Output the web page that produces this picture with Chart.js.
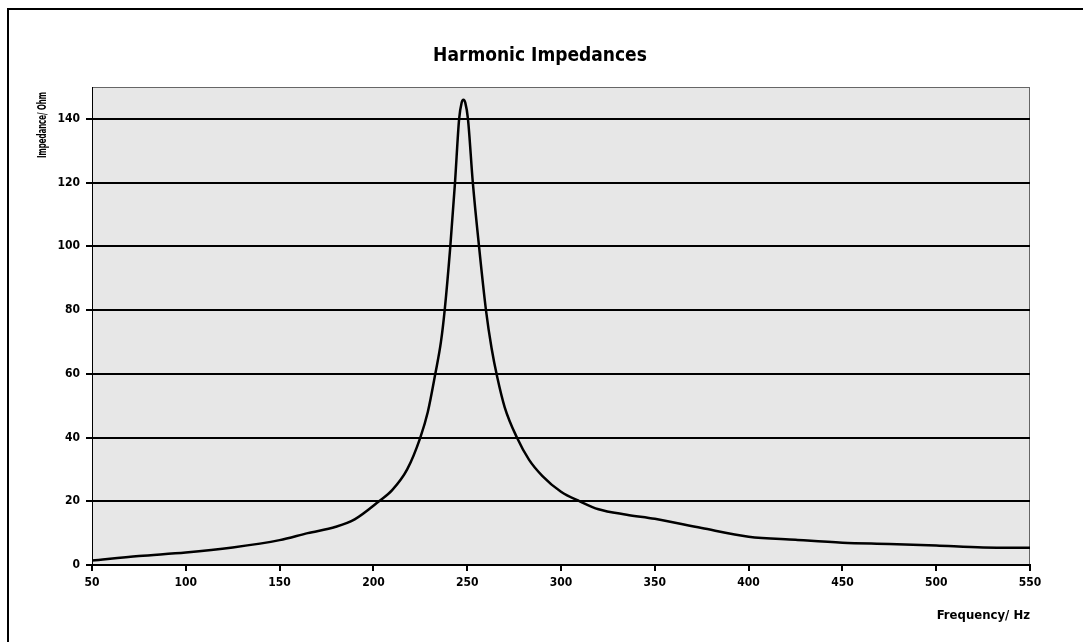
<!DOCTYPE html>
<html>
<head>
<meta charset="utf-8">
<script src="https://cdn.jsdelivr.net/npm/chart.js@4/dist/chart.umd.min.js"></script>
<style>
  html, body { margin: 0; padding: 0; background: #ffffff; }
  #wrap { width: 1083px; height: 642px; position: relative; }
</style>
</head>
<body>
<div id="wrap"><canvas id="c" width="1083" height="642"></canvas></div>
<script>
const chartTitle = "Harmonic Impedances";
const xAxisTitle = "Frequency/ Hz";
const yAxisTitle = "Impedance/ Ohm";

const frequencies = [50, 75, 100, 125, 150, 165, 180, 190, 203, 210, 218, 225, 229, 233, 236, 238, 241, 243.5, 245.7, 247, 248, 249, 250.4, 253, 256.3, 260, 263, 266, 270, 276.5, 283, 290, 300, 310, 320, 335, 350, 375, 400, 425, 450, 475, 500, 525, 550];
const impedances = [1.4, 2.8, 3.9, 5.5, 7.8, 10, 12, 14.3, 20, 23.5, 30, 40, 48, 60, 70, 80, 100, 120, 140, 145, 146, 145, 140, 120, 100, 80, 68, 59, 49.5, 40, 33, 28, 23, 20, 17.5, 15.8, 14.5, 11.6, 8.9, 7.9, 7.0, 6.6, 6.1, 5.5, 5.4];

const xTicks = [50, 100, 150, 200, 250, 300, 350, 400, 450, 500, 550];
const yTicks = [0, 20, 40, 60, 80, 100, 120, 140];

const points = frequencies.map((f, i) => ({ x: f, y: impedances[i] }));
const FONT = '"DejaVu Sans Condensed", "Liberation Sans Narrow", "Liberation Sans", Arial, sans-serif';

const decor = {
  id: 'decor',
  beforeDraw(chart) {
    const ctx = chart.ctx;
    const a = chart.chartArea;
    ctx.save();
    ctx.strokeStyle = '#000';
    ctx.lineWidth = 2;
    ctx.beginPath();
    ctx.moveTo(8, 650);
    ctx.lineTo(8, 9);
    ctx.lineTo(1090, 9);
    ctx.stroke();
    ctx.fillStyle = '#e7e7e7';
    ctx.fillRect(a.left, a.top, a.right - a.left, a.bottom - a.top);
    ctx.strokeStyle = '#666';
    ctx.lineWidth = 1;
    ctx.strokeRect(a.left + 0.5, a.top + 0.5, a.right - a.left - 1, a.bottom - a.top - 1);
    ctx.fillStyle = '#000';
    ctx.font = 'bold 19px ' + FONT;
    ctx.textAlign = 'center';
    ctx.textBaseline = 'middle';
    ctx.fillText(chartTitle, 540, 56);
    ctx.font = 'bold 13px ' + FONT;
    const w = ctx.measureText(yAxisTitle).width;
    const target = 66;
    ctx.translate(43, 125);
    ctx.rotate(-Math.PI / 2);
    ctx.scale(target / w, 1);
    ctx.fillText(yAxisTitle, 0, 0);
    ctx.restore();
  }
};

new Chart(document.getElementById('c'), {
  type: 'line',
  data: {
    datasets: [{
      data: points,
      borderColor: '#000',
      borderWidth: 2.5,
      pointRadius: 0,
      cubicInterpolationMode: 'monotone',
      tension: 0.4,
      fill: false
    }]
  },
  options: {
    responsive: false,
    animation: false,
    layout: { padding: { top: 87, right: 53, bottom: 0, left: 0 } },
    plugins: { legend: { display: false }, title: { display: false }, tooltip: { enabled: false } },
    scales: {
      x: {
        type: 'linear',
        min: 50, max: 550,
        afterBuildTicks(scale) { scale.ticks = xTicks.map(v => ({ value: v })); },
        afterFit(scale) { scale.height = 642 - 565; },
        grid: { drawOnChartArea: false, drawTicks: true, tickLength: 6, color: '#000', lineWidth: 2 },
        border: { display: true, color: '#000', width: 2 },
        ticks: {
          color: '#000', padding: 5, maxRotation: 0, autoSkip: false,
          font: { family: FONT, size: 12, weight: 'bold' }
        },
        title: {
          display: true, text: xAxisTitle, align: 'end', color: '#000',
          padding: { top: 0, bottom: 19 },
          font: { family: FONT, size: 13, weight: 'bold' }
        }
      },
      y: {
        min: 0, max: 150,
        afterBuildTicks(scale) { scale.ticks = yTicks.map(v => ({ value: v })); },
        afterFit(scale) { scale.width = 92; },
        grid: { drawOnChartArea: true, drawTicks: true, tickLength: 6, color: '#000', lineWidth: 2 },
        border: { display: true, color: '#000', width: 1 },
        ticks: {
          color: '#000', padding: 6,
          font: { family: FONT, size: 12, weight: 'bold' }
        },
        title: { display: false, text: yAxisTitle }
      }
    }
  },
  plugins: [decor]
});
</script>
</body>
</html>
